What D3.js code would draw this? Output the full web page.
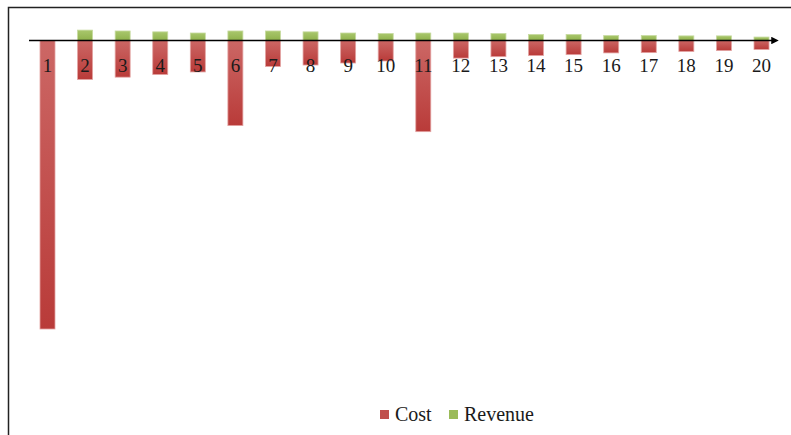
<!DOCTYPE html>
<html>
<head>
<meta charset="utf-8">
<script src="https://cdn.jsdelivr.net/npm/d3@7"></script>
<style>
    body { margin: 0; background: #fff; }
    svg { display: block; }
    text { font-family: "Liberation Serif", "DejaVu Serif", serif; }
</style>
</head>
<body>
<script>
// chart values (cost below axis, revenue above)
const categories = d3.range(1, 21).map(String);
const cost = [-100, -13.5, -12.7, -11.8, -10.9, -29.5, -9.0, -8.5, -7.8, -7.1,
    -31.6, -6.1, -5.6, -5.2, -4.9, -4.3, -4.2, -3.8, -3.5, -3.1];
const revenue = [0, 3.6, 3.3, 3.0, 2.6, 3.3, 3.3, 3.0, 2.6, 2.4,
    2.6, 2.6, 2.4, 2.1, 2.1, 1.7, 1.7, 1.6, 1.6, 1.2];
const series_names = ["Cost", "Revenue"];

const total_width = 791;
const total_height = 435;
const bar_width = 15;

const svg = d3.select("body").append("svg")
    .attr("width", total_width)
    .attr("height", total_height);

// gradients for the Excel-ish bars
const defs = svg.append("defs");
function add_gradient(id, top, bottom) {
    const g = defs.append("linearGradient")
        .attr("id", id)
        .attr("x1", 0).attr("y1", 0).attr("x2", 0).attr("y2", 1);
    g.append("stop").attr("offset", "0%").attr("stop-color", top);
    g.append("stop").attr("offset", "100%").attr("stop-color", bottom);
}
add_gradient("grad_cost", "#cc6765", "#b93b39");
add_gradient("grad_rev", "#a9c76c", "#8fb14c");

// outer frame (only left and top edges are visible in the picture)
svg.append("rect")
    .attr("x", 8.5).attr("y", 7.5)
    .attr("width", 800).attr("height", 440)
    .attr("fill", "none")
    .attr("stroke", "#222")
    .attr("stroke-width", 1.5);

const x = d3.scalePoint()
    .domain(categories)
    .range([47.5, 761.5]);

const y = d3.scaleLinear()
    .domain([-100, 0])
    .range([329, 40.5]);

// cost bars
svg.selectAll(".cost_bar")
    .data(categories)
    .enter().append("rect")
    .attr("class", "cost_bar")
    .attr("x", d => x(d) - bar_width / 2)
    .attr("y", y(0))
    .attr("width", bar_width)
    .attr("height", (d, i) => y(cost[i]) - y(0))
    .attr("fill", "url(#grad_cost)")
    .attr("stroke", "#e3a3a2")
    .attr("stroke-width", 0.8);

// revenue bars
svg.selectAll(".rev_bar")
    .data(categories)
    .enter().append("rect")
    .attr("class", "rev_bar")
    .attr("x", d => x(d) - bar_width / 2)
    .attr("y", (d, i) => y(revenue[i]))
    .attr("width", bar_width)
    .attr("height", (d, i) => y(0) - y(revenue[i]))
    .attr("fill", "url(#grad_rev)")
    .attr("stroke", "#c6da9f")
    .attr("stroke-width", 0.8);

// horizontal axis with arrow
defs.append("marker")
    .attr("id", "arrow")
    .attr("viewBox", "0 0 10 10")
    .attr("refX", 1).attr("refY", 5)
    .attr("markerWidth", 5).attr("markerHeight", 5)
    .attr("orient", "auto")
    .append("path")
    .attr("d", "M0,0 L10,5 L0,10 z")
    .attr("fill", "#000");

svg.append("line")
    .attr("x1", 29).attr("x2", 772)
    .attr("y1", y(0)).attr("y2", y(0))
    .attr("stroke", "#000")
    .attr("stroke-width", 1.5)
    .attr("marker-end", "url(#arrow)");

// category labels
svg.selectAll(".cat_label")
    .data(categories)
    .enter().append("text")
    .attr("class", "cat_label")
    .attr("x", d => x(d))
    .attr("y", 72)
    .attr("text-anchor", "middle")
    .attr("font-size", 19)
    .attr("fill", "#1a1a1a")
    .text(d => d);

// legend
const legend = svg.append("g").attr("transform", "translate(380,410)");
const legend_colors = ["#c0504d", "#9bbb59"];
const legend_x = [0, 69];
series_names.forEach((name, i) => {
    legend.append("rect")
        .attr("x", legend_x[i]).attr("y", 0)
        .attr("width", 9).attr("height", 9)
        .attr("fill", legend_colors[i]);
    legend.append("text")
        .attr("x", legend_x[i] + 15).attr("y", 11)
        .attr("font-size", 20)
        .attr("fill", "#1a1a1a")
        .text(name);
});
</script>
</body>
</html>
